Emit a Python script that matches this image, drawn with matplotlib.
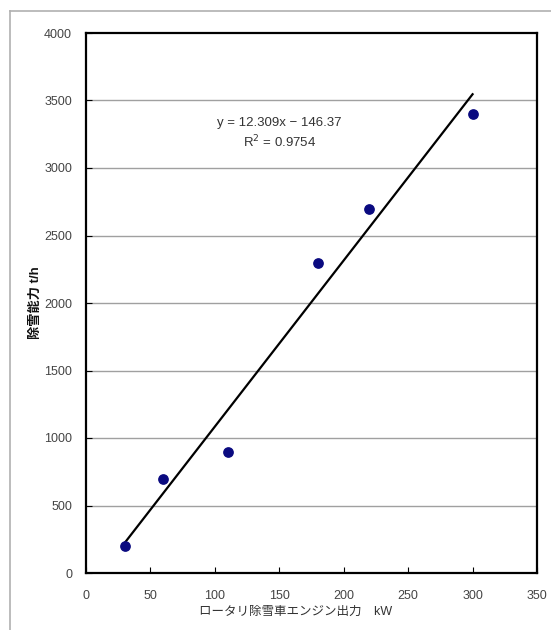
import numpy as np
import matplotlib.pyplot as plt
from matplotlib.lines import Line2D

plt.rcParams['font.family'] = ['Liberation Sans', 'Noto Sans CJK JP', 'DejaVu Sans']

# engine output kW vs snow removal capacity t/h
power_kw = [30, 60, 110, 180, 220, 300]
capacity = [200, 700, 900, 2300, 2700, 3400]
x_ticks = [0, 50, 100, 150, 200, 250, 300, 350]
y_ticks = [0, 500, 1000, 1500, 2000, 2500, 3000, 3500, 4000]

fig = plt.figure(figsize=(5.51, 6.30), dpi=100)
ax = fig.add_axes([86/551, 57/630, 451/551, 540/630])

# outer frame (top and left only)
fig.add_artist(Line2D([10/551, 1], [1-11/630, 1-11/630], color='#b0b0b0', lw=1.2))
fig.add_artist(Line2D([10/551, 10/551], [0, 1-11/630], color='#b0b0b0', lw=1.2))

for yv in y_ticks[1:-1]:
    ax.axhline(yv, color='#a0a0a0', lw=1, zorder=0)

ax.scatter(power_kw, capacity, s=45, color='#0a0a80', zorder=3)

# linear trendline
coef = np.polyfit(power_kw, capacity, 1)
xs = np.array([min(power_kw), max(power_kw)])
ax.plot(xs, np.polyval(coef, xs), color='black', lw=1.6, zorder=2)
pred = np.polyval(coef, power_kw)
r2 = 1 - np.sum((np.array(capacity) - pred)**2) / np.sum((np.array(capacity) - np.mean(capacity))**2)

ax.text(150, 3335, 'y = %.3fx − %.2f' % (coef[0], -coef[1]), fontsize=9.5,
        color='#333333', ha='center', va='center')
ax.text(150, 3195, 'R$^2$ = %.4f' % r2, fontsize=9.5, color='#333333',
        ha='center', va='center')

ax.set_xlim(0, 350)
ax.set_ylim(0, 4000)
ax.set_xticks(x_ticks)
ax.set_yticks(y_ticks)
ax.tick_params(direction='in', length=4, labelsize=9, labelcolor='#444444')
ax.tick_params(axis='x', pad=12)
ax.tick_params(axis='y', pad=10)
for sp in ax.spines.values():
    sp.set_linewidth(1.6)

ax.set_xlabel('ロータリ除雪車エンジン出力　kW', fontsize=9, color='#333333')
ax.xaxis.set_label_coords(0.465, -0.06)
ax.set_ylabel('除雪能力 t/h', fontsize=9.5, color='#111111', fontweight='bold')
ax.yaxis.set_label_coords(-0.097, 0.5)

fig.savefig('out.png', dpi=100)
